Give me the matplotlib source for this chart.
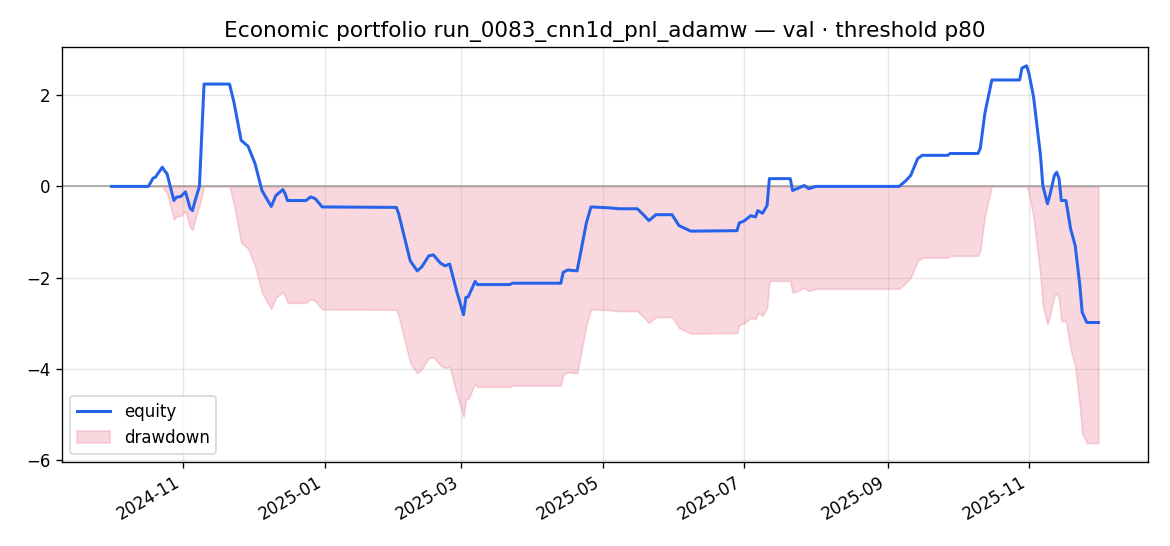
import numpy as np
import pandas as pd
from matplotlib import pyplot as plt

dates = [
    "2024-10-01", "2024-10-17", "2024-10-19", "2024-10-20", "2024-10-23", "2024-10-24",
    "2024-10-25", "2024-10-28", "2024-10-29", "2024-10-31", "2024-11-02", "2024-11-04",
    "2024-11-05", "2024-11-06", "2024-11-08", "2024-11-10", "2024-11-21", "2024-11-23",
    "2024-11-26", "2024-11-28", "2024-11-29", "2024-12-02", "2024-12-05", "2024-12-09",
    "2024-12-11", "2024-12-14", "2024-12-15", "2024-12-16", "2024-12-24", "2024-12-26",
    "2024-12-28", "2024-12-31", "2025-02-01", "2025-02-02", "2025-02-07", "2025-02-10",
    "2025-02-12", "2025-02-15", "2025-02-17", "2025-02-20", "2025-02-22", "2025-02-24",
    "2025-02-27", "2025-03-02", "2025-03-03", "2025-03-04", "2025-03-07", "2025-03-08",
    "2025-03-22", "2025-03-23", "2025-04-13", "2025-04-14", "2025-04-16", "2025-04-20",
    "2025-04-21", "2025-04-24", "2025-04-26", "2025-05-04", "2025-05-08", "2025-05-16",
    "2025-05-19", "2025-05-21", "2025-05-24", "2025-05-31", "2025-06-03", "2025-06-06",
    "2025-06-08", "2025-06-28", "2025-06-29", "2025-07-01", "2025-07-04", "2025-07-06",
    "2025-07-07", "2025-07-09", "2025-07-11", "2025-07-12", "2025-07-21", "2025-07-22",
    "2025-07-24", "2025-07-27", "2025-07-29", "2025-08-01", "2025-09-06", "2025-09-09",
    "2025-09-11", "2025-09-14", "2025-09-16", "2025-09-27", "2025-09-28", "2025-10-10",
    "2025-10-11", "2025-10-13", "2025-10-16", "2025-10-28", "2025-10-29", "2025-10-31",
    "2025-11-01", "2025-11-03", "2025-11-06", "2025-11-07", "2025-11-09", "2025-11-10",
    "2025-11-12", "2025-11-13", "2025-11-14", "2025-11-15", "2025-11-17", "2025-11-19",
    "2025-11-21", "2025-11-23", "2025-11-24", "2025-11-26", "2025-12-01",
]
equity = [
    0.0, 0.0, 0.18, 0.2, 0.42, 0.34,
    0.28, -0.31, -0.24, -0.22, -0.12, -0.48,
    -0.53, -0.34, 0.0, 2.24, 2.24, 1.82,
    1.01, 0.92, 0.88, 0.5, -0.09, -0.44,
    -0.2, -0.07, -0.16, -0.31, -0.31, -0.23,
    -0.27, -0.45, -0.46, -0.6, -1.63, -1.85,
    -1.76, -1.52, -1.5, -1.68, -1.74, -1.7,
    -2.29, -2.81, -2.43, -2.42, -2.08, -2.15,
    -2.15, -2.12, -2.12, -1.88, -1.83, -1.85,
    -1.59, -0.8, -0.45, -0.47, -0.49, -0.49,
    -0.64, -0.75, -0.62, -0.62, -0.86, -0.93,
    -0.98, -0.97, -0.8, -0.76, -0.64, -0.67,
    -0.53, -0.59, -0.42, 0.17, 0.17, -0.09,
    -0.05, 0.02, -0.05, 0.0, 0.0, 0.13,
    0.24, 0.61, 0.68, 0.68, 0.72, 0.72,
    0.83, 1.6, 2.33, 2.33, 2.59, 2.64,
    2.48, 1.96, 0.68, 0.02, -0.38, -0.2,
    0.24, 0.31, 0.17, -0.31, -0.31, -0.93,
    -1.3, -2.18, -2.76, -2.98, -2.98,
]

x = pd.to_datetime(dates)
eq = np.array(equity)
# drawdown = distance below the running peak
dd = eq - np.maximum.accumulate(eq)

fig, ax = plt.subplots(figsize=(9.75, 4.55), dpi=120)
ax.plot(x, eq, color="#2563eb", lw=1.8, label="equity", zorder=3)
ax.fill_between(x, dd, 0, color="#e8637f", alpha=0.25, label="drawdown")
ax.axhline(0, color="#888888", lw=0.9, alpha=0.8)
ax.set_title("Economic portfolio run_0083_cnn1d_pnl_adamw — val · threshold p80", fontsize=13)
ax.grid(True, alpha=0.3)
ax.legend(loc="lower left")
fig.autofmt_xdate()
fig.subplots_adjust(left=0.053, right=0.981, top=0.914, bottom=0.154)
plt.savefig("out.png")
